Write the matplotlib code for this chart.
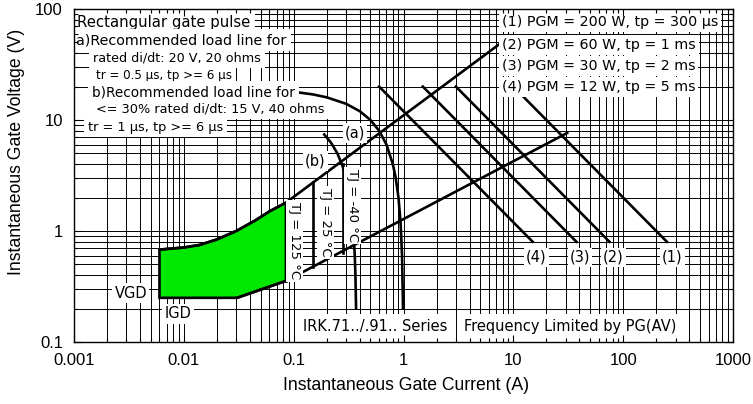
import numpy as np
import matplotlib
matplotlib.use("Agg")
import matplotlib.pyplot as plt
from matplotlib.ticker import FixedLocator, FixedFormatter, NullFormatter, LogLocator

# axis ticks
x_ticks = [0.001, 0.01, 0.1, 1, 10, 100, 1000]
x_ticklabels = ["0.001", "0.01", "0.1", "1", "10", "100", "1000"]
y_ticks = [0.1, 1, 10, 100]
y_ticklabels = ["0.1", "1", "10", "100"]

# gate trigger area boundaries (A, V)
upper_i = [0.006, 0.01, 0.014, 0.02, 0.03, 0.045, 0.06, 0.085, 8.4]
upper_v = [0.68, 0.71, 0.75, 0.84, 1.0, 1.25, 1.5, 1.8, 52.6]
lower_i = [0.006, 0.0305, 0.085, 30.9]
lower_v = [0.25, 0.25, 0.355, 7.64]
vgd = 0.25
igd_i = 0.006

# junction temperature limits
tj_labels = ["TJ = 125 °C", "TJ = 25 °C", "TJ = -40 °C"]
tj_current = [0.085, 0.150, 0.282]
tj_v_low = [0.355, 0.47, 0.63]
tj_v_high = [1.8, 2.75, 4.0]

# recommended load lines
load_a_i = [0.09, 0.15, 0.2, 0.3, 0.4, 0.5, 0.6, 0.7, 0.8, 0.85, 0.9, 0.94, 0.97, 0.99]
load_a_v = [18.2, 17, 16, 14, 12, 10, 8, 6, 4, 3, 2, 1.2, 0.6, 0.2]
load_b_i = [0.19, 0.22, 0.25, 0.28, 0.3, 0.32, 0.34, 0.35, 0.36, 0.365, 0.37]
load_b_v = [7.4, 6.2, 5.0, 3.8, 3.0, 2.2, 1.4, 1.0, 0.6, 0.4, 0.2]

# peak gate power lines
pgm_names = ["(1)", "(2)", "(3)", "(4)"]
pgm_i_start = [10, 3, 1.5, 0.6]
pgm_i_end = [250, 75, 37.5, 15]
pgm_v_start = 20
pgm_v_end = 0.8
pgm_label_i = [279, 81, 40.5, 16.1]
pgm_label_v = 0.58

legend_right = ["(1) PGM = 200 W, tp = 300 µs",
                "(2) PGM = 60 W, tp = 1 ms",
                "(3) PGM = 30 W, tp = 2 ms",
                "(4) PGM = 12 W, tp = 5 ms"]

W, H = 753, 404
fig = plt.figure(figsize=(W / 100, H / 100), dpi=100)
ax = fig.add_axes([74 / W, 1 - 342 / H, 659 / W, 333 / H])
ax.set_xscale("log")
ax.set_yscale("log")
ax.set_xlim(0.001, 1000)
ax.set_ylim(0.1, 100)

# datasheet style grid, drawn by hand so text boxes can sit over it
mult = np.arange(1, 10)
gx = np.concatenate([mult * 10.0 ** e for e in range(-3, 3)])
gy = np.concatenate([mult * 10.0 ** e for e in range(-1, 2)])
ax.vlines(gx[1:], 0.1, 100, color="black", lw=0.7, zorder=1)
ax.hlines(gy[1:], 0.001, 1000, color="black", lw=0.7, zorder=1)

lw = 1.9
# green trigger area
poly_i = [igd_i] + upper_i[:8] + [lower_i[2], lower_i[1], igd_i]
poly_v = [vgd] + upper_v[:8] + [lower_v[2], lower_v[1], vgd]
ax.fill(poly_i, poly_v, facecolor="#00e800", edgecolor="black", lw=lw, zorder=2)
ax.plot(upper_i, upper_v, color="black", lw=lw, zorder=2)
ax.plot(lower_i[1:], lower_v[1:], color="black", lw=lw, zorder=2)
for i, lo, hi in zip(tj_current, tj_v_low, tj_v_high):
    ax.plot([i, i], [lo, hi], color="black", lw=lw, zorder=2)

ax.plot(load_a_i, load_a_v, color="black", lw=lw, zorder=2)
ax.plot(load_b_i, load_b_v, color="black", lw=lw, zorder=2)

for i0, i1 in zip(pgm_i_start, pgm_i_end):
    ax.plot([i0, i1], [pgm_v_start, pgm_v_end], color="black", lw=lw, zorder=2)

box = dict(boxstyle="square,pad=0.15", fc="white", ec="none")
tfont = dict(family="DejaVu Sans", color="black", zorder=3)


def px(x, y):
    # pixel position -> axes fraction
    return (x - 74) / 659, (342 - y) / 333


left_lines = [
    ("Rectangular gate pulse", 77, 22, 10.7),
    ("a)Recommended load line for", 76, 40, 10.3),
    ("rated di/dt: 20 V, 20 ohms", 93, 58, 9.2),
    ("tr = 0.5 µs, tp >= 6 µs", 96, 75, 8.6),
    ("b)Recommended load line for", 92, 92, 9.8),
    ("<= 30% rated di/dt: 15 V, 40 ohms", 96, 109, 9.3),
    ("tr = 1 µs, tp >= 6 µs", 88, 127, 9.3),
]
for s, x, y, fs in left_lines:
    ax.text(*px(x, y), s, transform=ax.transAxes, ha="left", va="center",
            fontsize=fs, bbox=dict(boxstyle="square,pad=0.3", fc="white", ec="none"), **tfont)

for k, s in enumerate(legend_right):
    ax.text(*px(502, [22, 45, 66, 87][k]), s, transform=ax.transAxes, ha="left",
            va="center", fontsize=10.3,
            bbox=dict(boxstyle="square,pad=0.2", fc="white", ec="none"), **tfont)

for name, li in zip(pgm_names, pgm_label_i):
    ax.text(li, pgm_label_v, name, ha="center", va="center", fontsize=10.5, bbox=box, **tfont)

ax.text(0.362, 7.64, "(a)", ha="center", va="center", fontsize=10.5, bbox=box, **tfont)
ax.text(0.157, 4.27, "(b)", ha="center", va="center", fontsize=10.5, bbox=box, **tfont)

tj_pos = [(0.101, 0.813), (0.193, 1.2), (0.34, 1.71)]
for s, (xi, yv) in zip(tj_labels, tj_pos):
    ax.text(xi, yv, s, ha="center", va="center", rotation=-90, fontsize=9.5, bbox=box, **tfont)

ax.text(0.0033, 0.276, "VGD", ha="center", va="center", fontsize=10.5, bbox=box, **tfont)
ax.text(0.00885, 0.179, "IGD", ha="center", va="center", fontsize=10.5, bbox=box, **tfont)

ax.text(*px(303, 327), "IRK.71../.91.. Series", transform=ax.transAxes, ha="left",
        va="center", fontsize=10.5, bbox=dict(boxstyle="square,pad=0.35", fc="white", ec="none"), **tfont)
ax.text(*px(464, 327), "Frequency Limited by PG(AV)", transform=ax.transAxes, ha="left",
        va="center", fontsize=10.5, bbox=dict(boxstyle="square,pad=0.35", fc="white", ec="none"), **tfont)

# ticks and labels
lab_font = ["Liberation Sans", "DejaVu Sans"]
ax.xaxis.set_major_locator(FixedLocator(x_ticks))
ax.xaxis.set_major_formatter(FixedFormatter(x_ticklabels))
ax.yaxis.set_major_locator(FixedLocator(y_ticks))
ax.yaxis.set_major_formatter(FixedFormatter(y_ticklabels))
ax.xaxis.set_minor_locator(LogLocator(base=10, subs=np.arange(2, 10)))
ax.yaxis.set_minor_locator(LogLocator(base=10, subs=np.arange(2, 10)))
ax.xaxis.set_minor_formatter(NullFormatter())
ax.yaxis.set_minor_formatter(NullFormatter())
ax.tick_params(which="both", direction="in", top=True, right=True, width=0.8)
ax.tick_params(which="major", length=5, labelsize=12, pad=8)
ax.tick_params(which="minor", length=3)
for t in ax.get_xticklabels() + ax.get_yticklabels():
    t.set_family(lab_font)
ax.xaxis.set_zorder(6)
ax.yaxis.set_zorder(6)
for sp in ax.spines.values():
    sp.set_zorder(6)
    sp.set_linewidth(1.0)

ax.set_xlabel("Instantaneous Gate Current (A)", fontsize=12.7, family=lab_font)
ax.set_ylabel("Instantaneous Gate Voltage (V)", fontsize=12.7, family=lab_font)
ax.xaxis.set_label_coords(0.504, -0.105)
ax.yaxis.set_label_coords(-0.074, 0.57)

fig.savefig("out.png", dpi=100)
